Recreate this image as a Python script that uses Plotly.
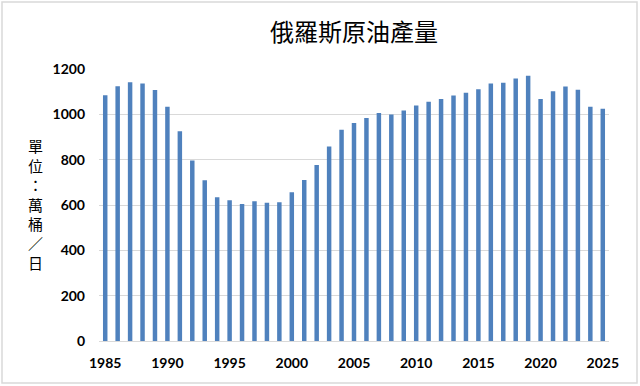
import plotly.graph_objects as go

years = list(range(1985, 2026))
production = [1084, 1124, 1142, 1136, 1107, 1033, 925, 796, 709, 634,
              621, 604, 616, 610, 612, 656, 710, 776, 858, 932,
              962, 984, 1006, 999, 1017, 1039, 1055, 1068, 1083, 1095,
              1111, 1136, 1139, 1158, 1170, 1068, 1102, 1123, 1109, 1034,
              1025]
title_text = "俄羅斯原油產量"
yaxis_title = "單位：萬桶／日"
x_ticks = list(range(1985, 2026, 5))
y_ticks = [0, 200, 400, 600, 800, 1000, 1200]

cjk = "Noto Sans CJK TC"
numfont = "Lato"

fig = go.Figure(go.Bar(
    x=years, y=production,
    marker=dict(color="#4F81BD", line=dict(width=0)),
))

W, H = 640, 386
L, R, T, B = 99, 31, 69, 45
pw, ph = W - L - R, H - T - B

def px_x(x):
    return (x - L) / pw

def px_y(y):
    return (H - B - y) / ph

annotations = [
    dict(text=title_text, x=0.5, xref="paper", xanchor="center",
         y=px_y(30), yref="paper", yanchor="middle", showarrow=False,
         font=dict(family=cjk, size=24, color="#000000")),
    dict(text="<br>".join(yaxis_title), x=px_x(35), xref="paper",
         xanchor="center", y=px_y(204), yref="paper", yanchor="middle",
         showarrow=False, align="center",
         font=dict(family=cjk, size=15, color="#000000")),
]

fig.update_layout(
    width=W, height=H,
    margin=dict(l=L, r=R, t=T, b=B),
    paper_bgcolor="white", plot_bgcolor="white",
    bargap=0.64,
    showlegend=False,
    annotations=annotations,
    shapes=[dict(type="rect", xref="paper", yref="paper",
                 x0=px_x(2), x1=px_x(637), y0=px_y(383), y1=px_y(2),
                 line=dict(color="#D9D9D9", width=1.5), layer="below")],
    xaxis=dict(
        range=[1984.5, 2025.5], tickmode="array", tickvals=x_ticks,
        ticktext=[str(v) for v in x_ticks], showgrid=False, zeroline=False,
        showline=True, linecolor="#D9D9D9", linewidth=1, ticks="",
        ticklabelstandoff=9,
        tickfont=dict(family=numfont, size=14, color="#000000", weight="bold"),
    ),
    yaxis=dict(
        range=[0, 1200], tickmode="array", tickvals=y_ticks,
        ticktext=[str(v) for v in y_ticks], showgrid=True,
        gridcolor="#D9D9D9", gridwidth=1, zeroline=False, showline=False,
        ticks="", ticklabelstandoff=13,
        tickfont=dict(family=numfont, size=14, color="#000000", weight="bold"),
    ),
)

fig.write_html("out.html", config={"displayModeBar": False},
               post_script="document.body.style.margin='0';document.body.style.overflow='hidden';")
